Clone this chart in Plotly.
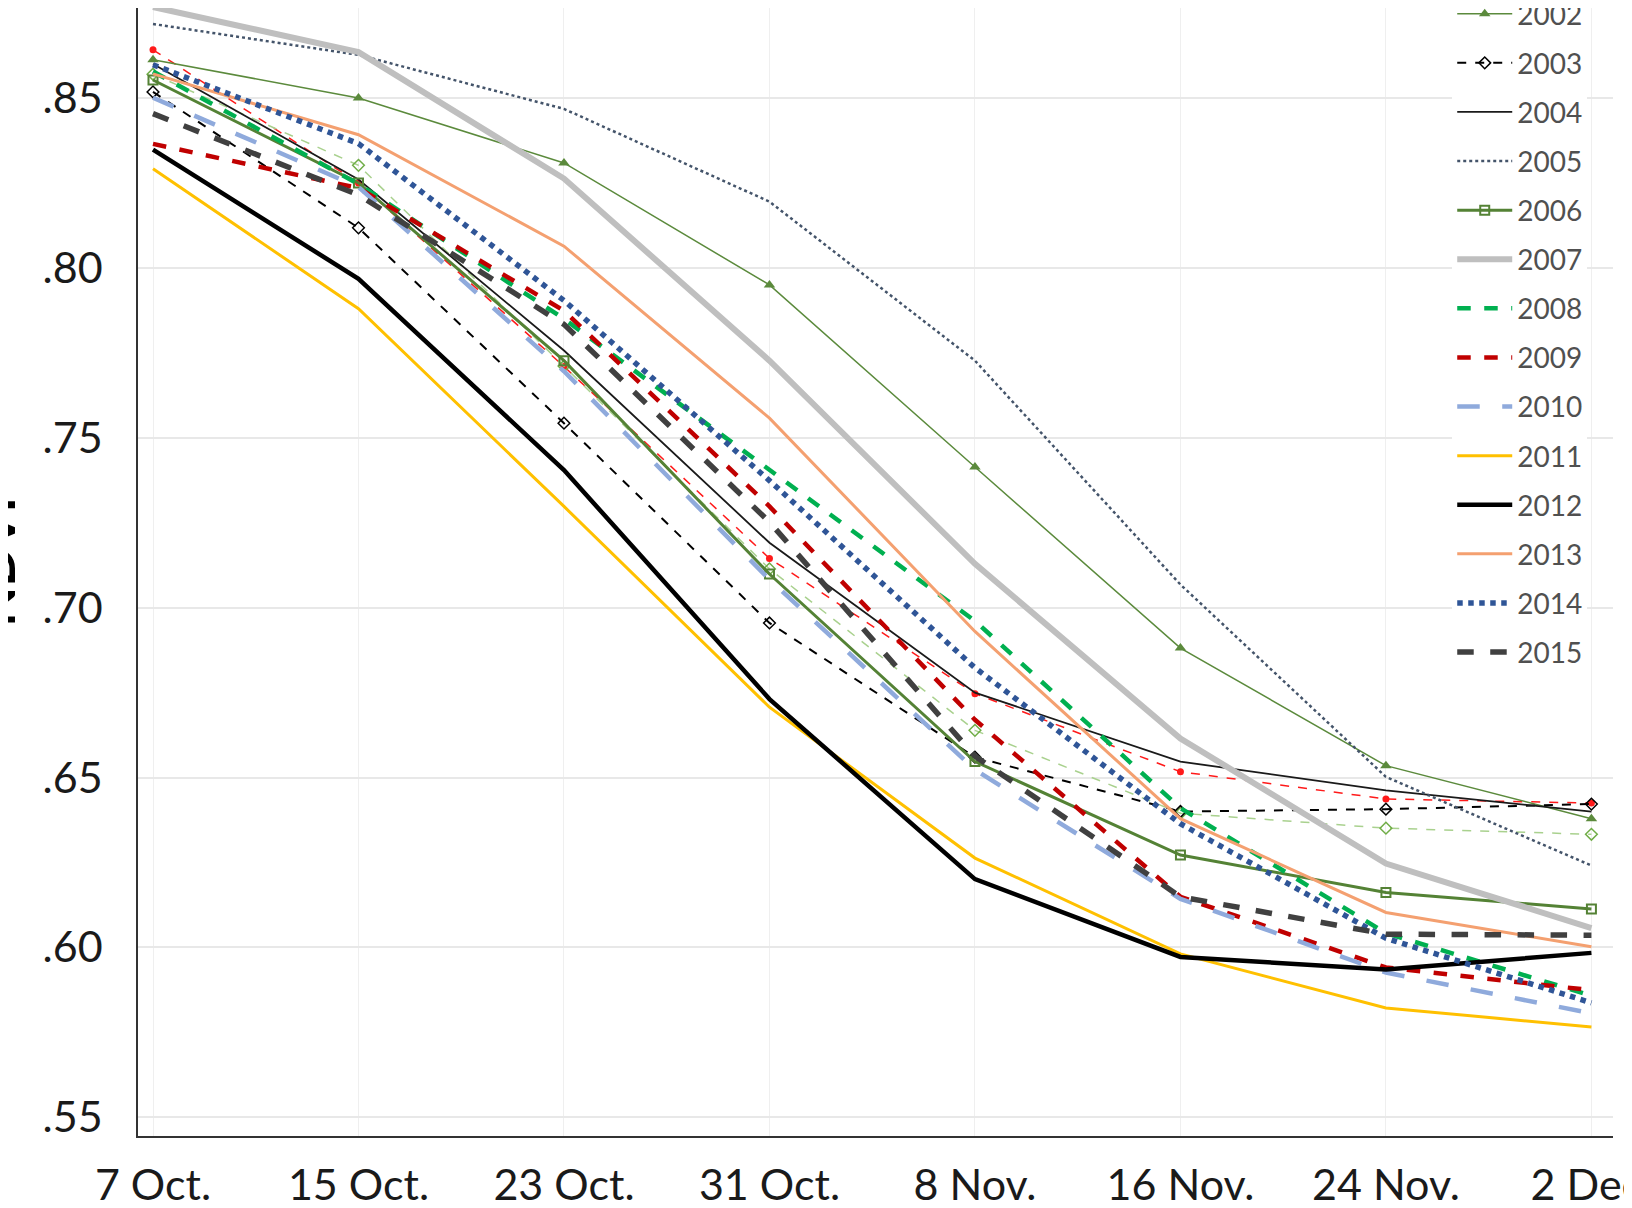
import plotly.graph_objects as go

dates = ["7 Oct.", "15 Oct.", "23 Oct.", "31 Oct.", "8 Nov.", "16 Nov.", "24 Nov.", "2 Dec."]
y_ticks = [0.55, 0.60, 0.65, 0.70, 0.75, 0.80, 0.85]
y_tick_labels = [".55", ".60", ".65", ".70", ".75", ".80", ".85"]

ndvi_2000 = [0.8642, 0.8250, 0.7710, 0.7145, 0.6747, 0.6517, 0.6437, 0.6425]
ndvi_2001 = [0.8570, 0.8302, 0.7711, 0.7114, 0.6639, 0.6395, 0.6351, 0.6333]
ndvi_2002 = [0.8613, 0.8500, 0.8309, 0.7950, 0.7414, 0.6881, 0.6535, 0.6379]
ndvi_2003 = [0.8518, 0.8118, 0.7543, 0.6955, 0.6560, 0.6400, 0.6407, 0.6422]
ndvi_2004 = [0.8600, 0.8260, 0.7757, 0.7191, 0.6750, 0.6547, 0.6462, 0.6400]
ndvi_2005 = [0.8718, 0.8627, 0.8468, 0.8195, 0.7727, 0.7068, 0.6502, 0.6241]
ndvi_2006 = [0.8553, 0.8250, 0.7727, 0.7099, 0.6547, 0.6272, 0.6162, 0.6113]
ndvi_2007 = [0.8768, 0.8635, 0.8263, 0.7727, 0.7129, 0.6615, 0.6247, 0.6057]
ndvi_2008 = [0.8578, 0.8247, 0.7850, 0.7405, 0.6961, 0.6410, 0.6042, 0.5858]
ndvi_2009 = [0.8365, 0.8235, 0.7874, 0.7298, 0.6670, 0.6149, 0.5941, 0.5874]
ndvi_2010 = [0.8501, 0.8238, 0.7696, 0.7083, 0.6523, 0.6143, 0.5926, 0.5806]
ndvi_2011 = [0.8292, 0.7880, 0.7298, 0.6707, 0.6263, 0.5981, 0.5822, 0.5766]
ndvi_2012 = [0.8348, 0.7968, 0.7405, 0.6731, 0.6201, 0.5972, 0.5935, 0.5984]
ndvi_2013 = [0.8571, 0.8392, 0.8064, 0.7558, 0.6930, 0.6379, 0.6103, 0.6002]
ndvi_2014 = [0.8598, 0.8366, 0.7904, 0.7374, 0.6823, 0.6364, 0.6027, 0.5837]
ndvi_2015 = [0.8454, 0.8215, 0.7834, 0.7252, 0.6563, 0.6149, 0.6039, 0.6036]

styles = [
    ("2000", ndvi_2000, dict(color="#ff1a1a", width=1.5, dash="dash"), dict(symbol="circle", size=7, color="#ff1a1a"), False),
    ("2001", ndvi_2001, dict(color="#a9d18e", width=1.5, dash="dash"), dict(symbol="diamond-open", size=9, color="#70ad47", line=dict(width=1.5)), False),
    ("2002", ndvi_2002, dict(color="#5b8a3c", width=1.5), dict(symbol="triangle-up", size=10, color="#5b8a3c"), True),
    ("2003", ndvi_2003, dict(color="#000000", width=2, dash="dash"), dict(symbol="diamond-open", size=9, color="#000000", line=dict(width=1.5)), True),
    ("2004", ndvi_2004, dict(color="#1a1a1a", width=1.8), None, True),
    ("2005", ndvi_2005, dict(color="#44546a", width=2.5, dash="dot"), None, True),
    ("2006", ndvi_2006, dict(color="#548235", width=3), dict(symbol="square-open", size=9, color="#548235", line=dict(width=2)), True),
    ("2007", ndvi_2007, dict(color="#bfbfbf", width=6), None, True),
    ("2008", ndvi_2008, dict(color="#00b050", width=4.5, dash="dash"), None, True),
    ("2009", ndvi_2009, dict(color="#c00000", width=4.5, dash="dash"), None, True),
    ("2010", ndvi_2010, dict(color="#8faadc", width=4.5, dash="longdash"), None, True),
    ("2011", ndvi_2011, dict(color="#ffc000", width=3), None, True),
    ("2012", ndvi_2012, dict(color="#000000", width=4.5), None, True),
    ("2013", ndvi_2013, dict(color="#f4a070", width=3), None, True),
    ("2014", ndvi_2014, dict(color="#2f5597", width=5.5, dash="dot"), None, True),
    ("2015", ndvi_2015, dict(color="#404040", width=5.5, dash="dash"), None, True),
]

fig = go.Figure()
for name, vals, line, marker, show in styles:
    fig.add_trace(go.Scatter(
        x=dates, y=vals, name=name, legendgroup=name, showlegend=show,
        mode="lines+markers" if marker else "lines",
        line=line, marker=marker if marker else None,
    ))

fig.update_layout(
    width=1632, height=1208,
    margin=dict(l=130, r=27, t=0, b=79.5, autoexpand=False),
    paper_bgcolor="white", plot_bgcolor="white",
    font=dict(family="Lato, sans-serif", color="#1a1a1a"),
    legend=dict(
        x=0.891, xanchor="left", y=1.0168, yanchor="top",
        bgcolor="rgba(255,255,255,1)",
        font=dict(size=28, color="#505050"),
        tracegroupgap=9.7, itemwidth=55, maxheight=1100,
    ),
    xaxis=dict(
        range=[-0.073, 7.105], showgrid=True, gridcolor="#efefef", gridwidth=1,
        showline=True, linecolor="#333333", linewidth=1.5,
        ticks="", tickfont=dict(size=43, color="#1a1a1a"),
        ticklabelstandoff=11, automargin=False, zeroline=False,
    ),
    yaxis=dict(
        range=[0.5445, 0.8765], tickvals=y_ticks, ticktext=y_tick_labels,
        showgrid=True, gridcolor="#e8e8e8", gridwidth=1.5,
        showline=True, linecolor="#333333", linewidth=1.5,
        ticks="", tickfont=dict(size=43, color="#1a1a1a"),
        ticklabelstandoff=25, automargin=False, zeroline=False,
    ),
    annotations=[dict(
        text="<b>NDVI</b>", xref="paper", yref="paper", x=0, y=0.509,
        xanchor="right", yanchor="middle", xshift=-110, textangle=-90,
        showarrow=False, font=dict(size=52, color="#000000"),
    )],
)

fig.write_html("out.html")
